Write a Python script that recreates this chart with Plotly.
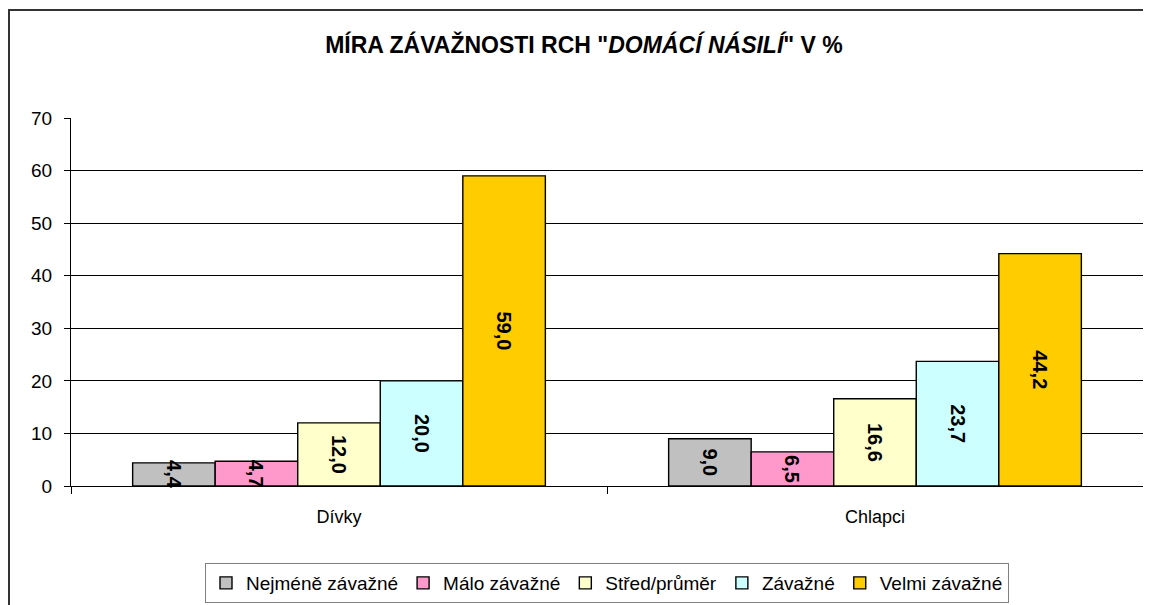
import plotly.graph_objects as go

categories = ["Dívky", "Chlapci"]
series_names = ["Nejméně závažné", "Málo závažné", "Střed/průměr", "Závažné", "Velmi závažné"]
series_values = [
    [4.4, 9.0],
    [4.7, 6.5],
    [12.0, 16.6],
    [20.0, 23.7],
    [59.0, 44.2],
]
series_colors = ["#C0C0C0", "#FF99CC", "#FFFFCC", "#CCFFFF", "#FFCC00"]
y_ticks = [0, 10, 20, 30, 40, 50, 60, 70]

FONT = "Liberation Sans, Arial, sans-serif"

fig = go.Figure()
for name, vals, col in zip(series_names, series_values, series_colors):
    fig.add_trace(go.Bar(
        name=name, x=categories, y=vals,
        marker=dict(color=col, line=dict(color="#000000", width=1.4)),
        text=[f"{v:.1f}".replace(".", ",") for v in vals],
        textposition="inside", insidetextanchor="middle",
        textangle=90, constraintext="none",
        textfont=dict(family=FONT, size=20, color="#000000", weight="bold"),
        cliponaxis=False,
    ))

# page body has an 8px margin, so figure coords = window coords - 8
OFF = 8
W, H = 1151 - OFF, 605 - OFF
px0, px1, py0, py1 = 71 - OFF, 1143 - OFF, 118 - OFF, 486 - OFF
L, R, T, B = px0, W - px1, py0, H - py1
pw, ph = px1 - px0, py1 - py0

fig.update_layout(
    width=W, height=H,
    margin=dict(l=L, r=R, t=T, b=B, autoexpand=False),
    paper_bgcolor="white", plot_bgcolor="white",
    barmode="group", bargap=0.23, bargroupgap=0,
    font=dict(family=FONT, color="#000000"),
    title=dict(
        text='<b>MÍRA ZÁVAŽNOSTI RCH "<i>DOMÁCÍ NÁSILÍ</i>" V %</b>',
        x=(584 - OFF - px0) / pw, xref="paper", xanchor="center",
        y=1 - (45 - OFF) / H, yref="container", yanchor="middle",
        font=dict(family=FONT, size=23, color="#000000"),
    ),
    xaxis=dict(
        showline=True, linecolor="#000000", linewidth=1,
        ticks="outside", tickson="boundaries", ticklen=7, tickcolor="#000000",
        tickfont=dict(family=FONT, size=18, color="#000000"),
        ticklabelstandoff=14,
        showgrid=False, automargin=False,
    ),
    yaxis=dict(
        range=[0, 70], tickvals=y_ticks,
        showline=True, linecolor="#000000", linewidth=1,
        ticks="outside", ticklen=6, tickcolor="#000000",
        tickfont=dict(family=FONT, size=19, color="#000000"),
        ticklabelstandoff=8,
        showgrid=True, gridcolor="#000000", gridwidth=1,
        zeroline=False, automargin=False,
    ),
    showlegend=True,
    legend=dict(
        orientation="h", x=(607 - OFF - px0) / pw, xanchor="center",
        y=(py1 - (563 - OFF)) / ph, yanchor="top",
        bordercolor="#808080", borderwidth=1,
        font=dict(family=FONT, size=19, color="#000000"),
        itemwidth=30, traceorder="normal",
    ),
)

# outer chart border (extends past right/bottom edges as in reference)
fig.add_shape(
    type="rect", xref="paper", yref="paper",
    x0=(1 - px0) / pw, x1=(W + 20 - px0) / pw,
    y0=(py1 - (H + 20)) / ph, y1=1 + (py0 - (10 - OFF)) / ph,
    line=dict(color="#333333", width=2), fillcolor="rgba(0,0,0,0)",
    layer="below",
)

fig.write_html("out.html")
